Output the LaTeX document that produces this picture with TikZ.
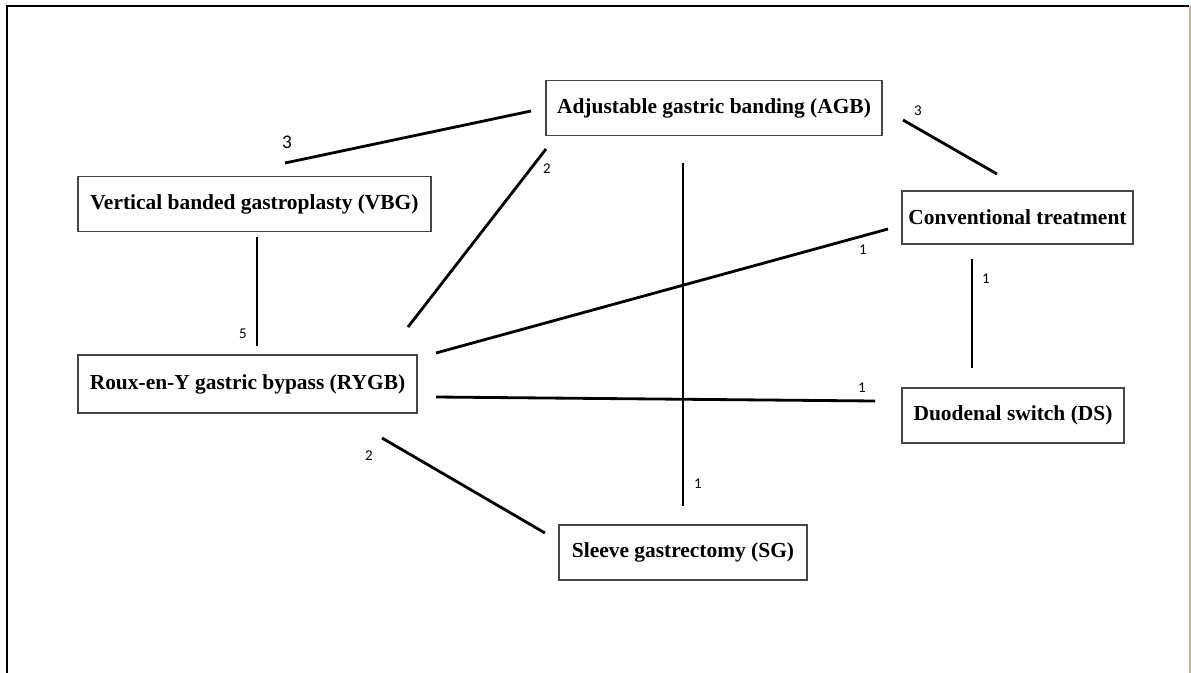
\documentclass[tikz,border=0pt]{standalone}
\usepackage{fontspec}
\setmainfont{Liberation Serif}
\newfontfamily\numfont{Carlito}
\usepackage{tikz}
\usetikzlibrary{positioning}

\definecolor{boxgray}{RGB}{70,70,70}
\definecolor{edgetan}{RGB}{205,180,140}

\begin{document}
\begin{tikzpicture}[x=0.02cm, y=-0.02cm,
    every node/.style = {align=center},
    treat/.style = {draw=boxgray, line width=0.7pt, inner sep=0pt,
      minimum height=1.1cm, font=\fontsize{12.2}{14}\selectfont\bfseries},
    link/.style = {line width=1.6pt},
    num/.style = {font=\numfont\fontsize{8.5}{9}\selectfont, inner sep=0pt}]
 \useasboundingbox (0,0) rectangle (1191,673);
 % outer frame
 \draw[line width=1.3pt] (7,673) -- (7,6) -- (1189,6);
 \draw[edgetan, line width=0.8pt] (1190,6) -- (1190,673);

 % treatments
 \node[treat, minimum width=6.72cm] (agb) at (714,108) {Adjustable gastric banding (AGB)};
 \node[treat, minimum width=7.06cm] (vbg) at (254.5,204) {Vertical banded gastroplasty (VBG)};
 \node[treat, minimum width=6.78cm, minimum height=1.16cm] (rygb) at (247.5,384) {Roux-en-Y gastric bypass (RYGB)};
 \node[treat, minimum width=4.62cm, minimum height=1.06cm] (ct) at (1017.5,217.5) {Conventional treatment};
 \node[treat, minimum width=4.44cm] (ds) at (1013,415.5) {Duodenal switch (DS)};
 \node[treat, minimum width=4.96cm] (sg) at (683,552.5) {Sleeve gastrectomy (SG)};

 % line ends
 \coordinate (vbg-agb-1) at (285,163);  \coordinate (vbg-agb-2) at (531,111);
 \coordinate (agb-ct-1) at (903,120);   \coordinate (agb-ct-2) at (997,174);
 \coordinate (agb-rygb-1) at (546,149); \coordinate (agb-rygb-2) at (408,327);
 \coordinate (agb-sg-1) at (683,163);   \coordinate (agb-sg-2) at (683,506);
 \coordinate (rygb-ct-1) at (436,353);  \coordinate (rygb-ct-2) at (888,229);
 \coordinate (rygb-ds-1) at (436,397);  \coordinate (rygb-ds-2) at (875,401);
 \coordinate (ct-ds-1) at (972,259);    \coordinate (ct-ds-2) at (972,368);
 \coordinate (vbg-rygb-1) at (257,237); \coordinate (vbg-rygb-2) at (257,346);
 \coordinate (rygb-sg-1) at (382,438);  \coordinate (rygb-sg-2) at (545,533);

 % comparisons
 \draw[link] (vbg-agb-1) -- (vbg-agb-2);
 \draw[link] (agb-ct-1) -- (agb-ct-2);
 \draw[link] (agb-rygb-1) -- (agb-rygb-2);
 \draw[link] (agb-sg-1) -- (agb-sg-2);
 \draw[link] (rygb-ct-1) -- (rygb-ct-2);
 \draw[link] (rygb-ds-1) -- (rygb-ds-2);
 \draw[link] (ct-ds-1) -- (ct-ds-2);
 \draw[link] (vbg-rygb-1) -- (vbg-rygb-2);
 \draw[link] (rygb-sg-1) -- (rygb-sg-2);

 % number of studies
 \node[num, font=\numfont\fontsize{11}{12}\selectfont] (n-vbg-agb) at (287,142) {3};
 \node[num] (n-agb-ct) at (918,111) {3};
 \node[num] (n-agb-rygb) at (547,169) {2};
 \node[num] (n-agb-sg) at (698,484) {1};
 \node[num] (n-rygb-ct) at (863,250) {1};
 \node[num] (n-rygb-ds) at (862,388) {1};
 \node[num] (n-ct-ds) at (986,279) {1};
 \node[num] (n-vbg-rygb) at (243,334) {5};
 \node[num] (n-rygb-sg) at (369,456) {2};
\end{tikzpicture}
\end{document}
